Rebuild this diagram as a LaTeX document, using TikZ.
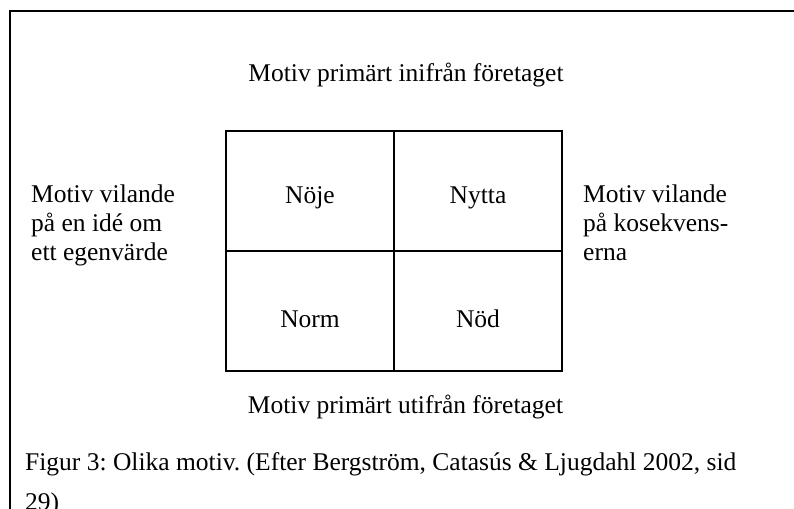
\documentclass[tikz,border=0pt]{standalone}
\usepackage{fontspec}
\setmainfont{Liberation Serif}
\frenchspacing
\begin{document}
\begin{tikzpicture}[x=1pt,y=-1pt,
  lbl/.style={font=\fontsize{25.5pt}{29pt}\selectfont, inner sep=0pt},
  cell/.style={draw, line width=1.5pt, minimum width=168pt, minimum height=120pt, inner sep=0pt},
  frame/.style={draw, line width=2pt}]
\useasboundingbox (0,0) rectangle (794,508);
\clip (0,0) rectangle (794,508);
% outer frame
\draw[frame] (10,11) rectangle (820,540);
% cells
\node[cell] (noje)  at (310,191) {};
\node[cell] (nytta) at (478,191) {};
\node[cell] (norm)  at (310,311) {};
\node[cell] (nod)   at (478,311) {};
% cell texts
\node[lbl, anchor=base] (tnoje)  at (310,203) {Nöje};
\node[lbl, anchor=base] (tnytta) at (478,203) {Nytta};
\node[lbl, anchor=base] (tnorm)  at (310,327) {Norm};
\node[lbl, anchor=base] (tnod)   at (478,327) {Nöd};
% top and bottom
\node[lbl, anchor=base] (top) at (406,82) {Motiv primärt inifrån företaget};
\node[lbl, anchor=base] (bot) at (405.5,413) {Motiv primärt utifrån företaget};
% left
\node[lbl, anchor=base west] (l1) at (31,202) {Motiv vilande};
\node[lbl, anchor=base west] (l2) at (31,231) {på en idé om};
\node[lbl, anchor=base west] (l3) at (31,260) {ett egenvärde};
% right
\node[lbl, anchor=base west] (r1) at (583,202) {Motiv vilande};
\node[lbl, anchor=base west] (r2) at (583,231) {på kosekvens-};
\node[lbl, anchor=base west] (r3) at (583,260) {erna};
% caption
\node[lbl, anchor=base west] (c1) at (25,470) {Figur 3: Olika motiv. (Efter Bergström, Catasús \& Ljugdahl 2002, sid};
\node[lbl, anchor=base west] (c2) at (25,510) {29)};
\end{tikzpicture}
\end{document}
